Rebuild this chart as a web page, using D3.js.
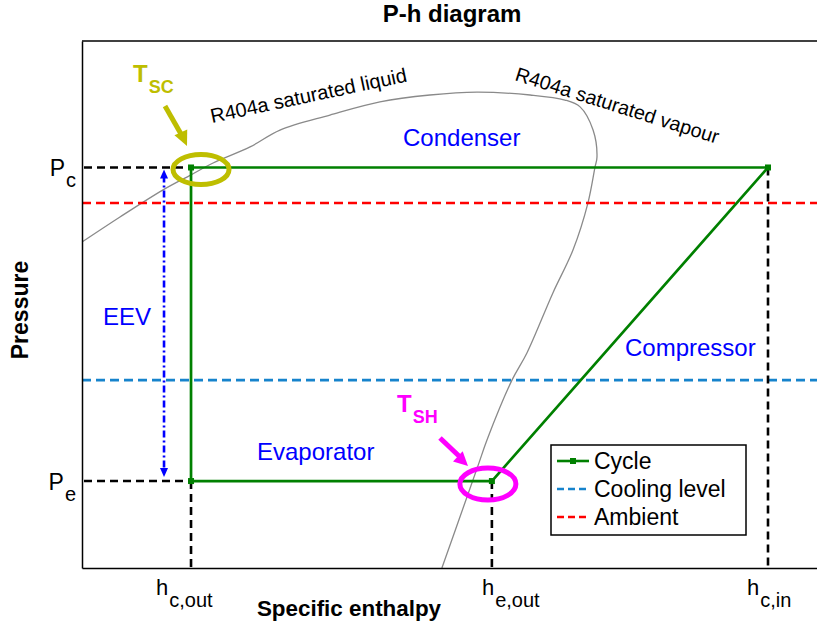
<!DOCTYPE html>
<html lang="en">
<head>
<meta charset="utf-8">
<title>P-h diagram</title>
<script src="https://cdn.jsdelivr.net/npm/d3@7"></script>
<style>
body { margin: 0; background: #fff; }
svg { font-family: "Liberation Sans", Arial, sans-serif; }
</style>
</head>
<body>
<script>
// enthalpy (kJ/kg) and pressure (bar)
var hNames = ["c,out", "e,out", "c,in"];
var hValues = [194.5, 317.3, 430];
var pNames = ["c", "e"];
var pValues = [15.2, 3.3];

var ambientP = 13.85;
var coolingP = 7.13;

// refrigeration cycle: EEV -> evaporator -> compressor -> condenser -> EEV
var cycleH = [194.5, 317.3, 430, 194.5, 194.5];
var cycleP = [3.3, 3.3, 15.2, 15.2, 3.3];

// R404a saturation dome
var satH = [150, 165.5, 183.1, 194.5, 203.5, 218.6, 230.8, 251.2, 271.6, 292.0, 311.2, 332.9, 347.1,
            353.3, 358.6, 360.2, 359.4, 356.5, 350.4, 342.2, 331.6, 325.5, 315.3, 312.0, 306.7, 296.9];
var satP = [12.37, 13.32, 14.35, 14.92, 15.37, 15.98, 16.62, 17.19, 17.69, 17.95, 18.06, 17.95, 17.76,
            17.50, 16.62, 15.60, 15.22, 13.85, 12.07, 10.44, 8.16, 7.13, 4.86, 3.98, 2.58, 0];

var legendNames = ["Cycle", "Cooling level", "Ambient"];

var W = 817, H = 625;
var plotL = 82, plotT = 41, plotB = 568;

var green = "#008000", red = "#ff0000", blue = "#1683cc", olive = "#bebe00", magenta = "#ff00ff";

var svg = d3.select("body").append("svg")
  .attr("width", W)
  .attr("height", H);

var x = d3.scaleLinear().domain([150, 450]).range([plotL, W]);
var y = d3.scaleLinear().domain([0, 20]).range([plotB, plotT]);

svg.append("defs").append("clipPath").attr("id", "plot")
  .append("rect").attr("x", plotL).attr("y", plotT).attr("width", W - plotL).attr("height", plotB - plotT);

// title and axis titles
svg.append("text")
  .attr("x", 452).attr("y", 22)
  .attr("text-anchor", "middle")
  .style("font-size", "24px").style("font-weight", "bold")
  .text("P-h diagram");

svg.append("text")
  .attr("transform", "translate(28,310) rotate(-90)")
  .attr("text-anchor", "middle")
  .style("font-size", "23px").style("font-weight", "bold")
  .text("Pressure");

svg.append("text")
  .attr("x", 349).attr("y", 616)
  .attr("text-anchor", "middle")
  .style("font-size", "22.4px").style("font-weight", "bold")
  .text("Specific enthalpy");

var g = svg.append("g").attr("clip-path", "url(#plot)");

// saturation curve
var satLine = d3.line()
  .x(function(d) { return x(d[0]); })
  .y(function(d) { return y(d[1]); })
  .curve(d3.curveCatmullRom.alpha(0.5));

g.append("path")
  .datum(d3.zip(satH, satP))
  .attr("d", satLine)
  .attr("fill", "none")
  .attr("stroke", "#8a8a8a")
  .attr("stroke-width", 1.3);

// cooling level and ambient
g.append("line")
  .attr("x1", plotL).attr("x2", W)
  .attr("y1", y(coolingP)).attr("y2", y(coolingP))
  .attr("stroke", blue).attr("stroke-width", 2.6)
  .attr("stroke-dasharray", "9,5");

g.append("line")
  .attr("x1", plotL).attr("x2", W)
  .attr("y1", y(ambientP)).attr("y2", y(ambientP))
  .attr("stroke", red).attr("stroke-width", 2.6)
  .attr("stroke-dasharray", "9,5");

// black guide lines to the axes
pValues.forEach(function(p) {
  g.append("line")
    .attr("x1", plotL + 2).attr("x2", x(hValues[0]))
    .attr("y1", y(p)).attr("y2", y(p))
    .attr("stroke", "#000").attr("stroke-width", 2.6)
    .attr("stroke-dasharray", "8,5");
});
var hTop = [pValues[1], pValues[1], pValues[0]];
hValues.forEach(function(h, i) {
  g.append("line")
    .attr("x1", x(h)).attr("x2", x(h))
    .attr("y1", y(hTop[i])).attr("y2", plotB)
    .attr("stroke", "#000").attr("stroke-width", 2.6)
    .attr("stroke-dasharray", "8,5");
});

// EEV arrow (dash-dot, both ends)
var eevX = x(hValues[0]) - 27;
g.append("line")
  .attr("x1", eevX).attr("x2", eevX)
  .attr("y1", y(pValues[0]) + 8).attr("y2", y(pValues[1]) - 10)
  .attr("stroke", "#0000ff").attr("stroke-width", 2.6)
  .attr("stroke-dasharray", "7,3,2,3");
function head(tx, ty, dx, dy, len, wid, col) {
  var n = Math.sqrt(dx * dx + dy * dy); dx /= n; dy /= n;
  var bx = tx - dx * len, by = ty - dy * len;
  svg.append("path")
    .attr("d", "M" + tx + "," + ty + "L" + (bx - dy * wid / 2) + "," + (by + dx * wid / 2) +
      "L" + (bx + dy * wid / 2) + "," + (by - dx * wid / 2) + "Z")
    .attr("fill", col);
}
head(eevX, y(pValues[0]) + 2, 0, -1, 9, 8, "#0000ff");
head(eevX, y(pValues[1]) - 4, 0, 1, 9, 8, "#0000ff");

// cycle
var cycleLine = d3.line()
  .x(function(d) { return x(d[0]); })
  .y(function(d) { return y(d[1]); });
g.append("path")
  .datum(d3.zip(cycleH, cycleP))
  .attr("d", cycleLine)
  .attr("fill", "none")
  .attr("stroke", green)
  .attr("stroke-width", 2.7);
g.selectAll("rect.pt")
  .data(d3.zip(cycleH, cycleP).slice(0, 4))
  .enter().append("rect")
  .attr("class", "pt")
  .attr("x", function(d) { return x(d[0]) - 3; })
  .attr("y", function(d) { return y(d[1]) - 3; })
  .attr("width", 6).attr("height", 6)
  .attr("fill", green);

// axes
var xAxis = d3.axisBottom(x).tickValues(hValues).tickSize(0).tickSizeOuter(0).tickFormat("");
var yAxis = d3.axisLeft(y).tickValues(pValues).tickSize(0).tickSizeOuter(0).tickFormat("");
svg.append("g").attr("transform", "translate(0," + plotB + ")").call(xAxis)
  .select(".domain").attr("stroke-width", 1.5);
svg.append("g").attr("transform", "translate(" + plotL + ",0)").call(yAxis)
  .select(".domain").attr("stroke-width", 1.5);
svg.append("line")
  .attr("x1", plotL).attr("x2", W).attr("y1", plotT).attr("y2", plotT)
  .attr("stroke", "#000").attr("stroke-width", 1.5);

// tick labels with subscripts
var hShift = [-35, -10, -21];
hNames.forEach(function(s, i) {
  var t = svg.append("text")
    .attr("x", x(hValues[i]) + hShift[i]).attr("y", 595)
    .style("font-size", "22px");
  t.append("tspan").text("h");
  t.append("tspan").attr("dy", 12).attr("dx", 1).style("font-size", "20px").text(s);
});
pNames.forEach(function(s, i) {
  var t = svg.append("text")
    .attr("x", 76).attr("y", y(pValues[i]) + 9)
    .attr("text-anchor", "end")
    .style("font-size", "23px");
  t.append("tspan").text("P");
  t.append("tspan").attr("dy", 11).attr("dx", 1).style("font-size", "20px").text(s);
});

// component labels
var comp = [["Condenser", 403, 146], ["Compressor", 625, 356], ["Evaporator", 257, 460], ["EEV", 103, 325]];
svg.selectAll("text.comp")
  .data(comp)
  .enter().append("text")
  .attr("class", "comp")
  .attr("x", function(d) { return d[1]; })
  .attr("y", function(d) { return d[2]; })
  .attr("fill", "#0000ff")
  .style("font-size", "24px")
  .text(function(d) { return d[0]; });

// curve labels
svg.append("text")
  .attr("transform", "translate(212,123) rotate(-12)")
  .style("font-size", "20px")
  .text("R404a saturated liquid");
svg.append("text")
  .attr("transform", "translate(514,80) rotate(17.5)")
  .style("font-size", "19.8px")
  .text("R404a saturated vapour");

// T_SC marker
var sc = [x(hValues[0]) + 10, y(pValues[0]) + 2];
svg.append("ellipse")
  .attr("cx", sc[0]).attr("cy", sc[1]).attr("rx", 28).attr("ry", 15)
  .attr("fill", "none").attr("stroke", olive).attr("stroke-width", 5);
svg.append("line")
  .attr("x1", 165).attr("y1", 106).attr("x2", 181).attr("y2", 134)
  .attr("stroke", olive).attr("stroke-width", 5);
head(187, 146, 0.45, 1, 15, 14, olive);
var tsc = svg.append("text").attr("x", 133).attr("y", 82)
  .attr("fill", olive).style("font-weight", "bold").style("font-size", "24px");
tsc.append("tspan").text("T");
tsc.append("tspan").attr("dy", 11).attr("dx", 1).style("font-size", "18px").text("SC");

// T_SH marker
var sh = [x(hValues[1]) - 4, y(pValues[1]) + 3];
svg.append("ellipse")
  .attr("cx", sh[0]).attr("cy", sh[1]).attr("rx", 28).attr("ry", 16)
  .attr("fill", "none").attr("stroke", magenta).attr("stroke-width", 5);
svg.append("line")
  .attr("x1", 440).attr("y1", 438).attr("x2", 459).attr("y2", 456)
  .attr("stroke", magenta).attr("stroke-width", 5);
head(468, 466, 1, 0.95, 14, 14, magenta);
var tsh = svg.append("text").attr("x", 397).attr("y", 412)
  .attr("fill", magenta).style("font-weight", "bold").style("font-size", "24px");
tsh.append("tspan").text("T");
tsh.append("tspan").attr("dy", 11).attr("dx", 1).style("font-size", "18px").text("SH");

// legend
var lg = svg.append("g").attr("transform", "translate(551,445)");
lg.append("rect")
  .attr("width", 195).attr("height", 90)
  .attr("fill", "#fff").attr("stroke", "#000").attr("stroke-width", 1.5);
var legColors = [green, blue, red];
legendNames.forEach(function(name, i) {
  var ly = 16 + i * 28;
  lg.append("line")
    .attr("x1", 6).attr("x2", 38).attr("y1", ly).attr("y2", ly)
    .attr("stroke", legColors[i]).attr("stroke-width", 2.6)
    .attr("stroke-dasharray", i === 0 ? null : "7,4");
  if (i === 0) {
    lg.append("rect").attr("x", 19).attr("y", ly - 3).attr("width", 6).attr("height", 6).attr("fill", green);
  }
  lg.append("text")
    .attr("x", 43).attr("y", ly + 8)
    .style("font-size", "23px")
    .text(name);
});
</script>
</body>
</html>
